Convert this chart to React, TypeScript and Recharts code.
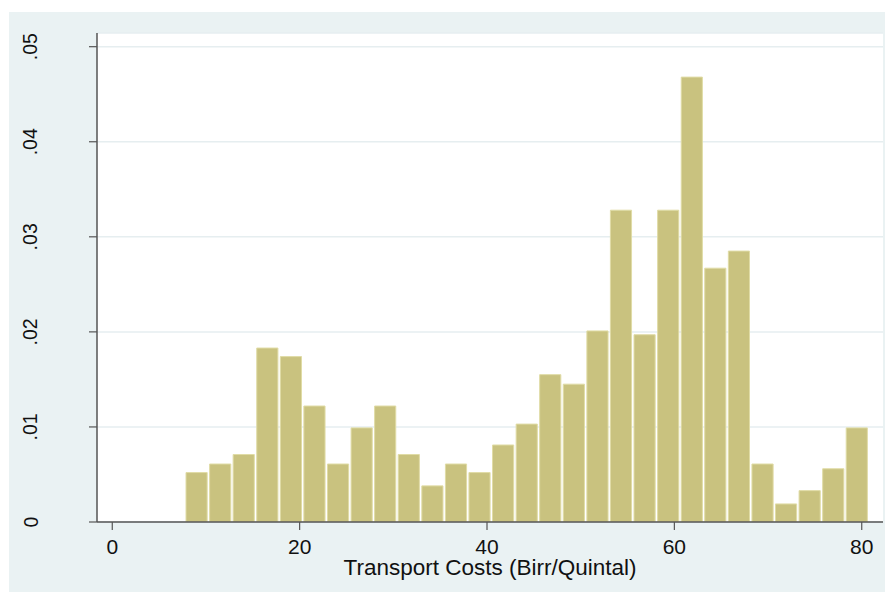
import { BarChart, Bar, XAxis, YAxis, CartesianGrid, Label } from "recharts";

// histogram bins (centre of each bin, Birr/Quintal) and density heights
const binCenters = [
  9.02, 11.54, 14.05, 16.57, 19.09, 21.6, 24.12, 26.64, 29.15, 31.67, 34.19,
  36.71, 39.22, 41.74, 44.26, 46.77, 49.29, 51.81, 54.32, 56.84, 59.36, 61.88,
  64.39, 66.91, 69.43, 71.94, 74.46, 76.98, 79.49,
];
const densities = [
  0.0052, 0.0061, 0.0071, 0.0183, 0.0174, 0.0122, 0.0061, 0.0099, 0.0122,
  0.0071, 0.0038, 0.0061, 0.0052, 0.0081, 0.0103, 0.0155, 0.0145, 0.0201,
  0.0328, 0.0197, 0.0328, 0.0468, 0.0267, 0.0285, 0.0061, 0.0019, 0.0033,
  0.0056, 0.0099,
];
const xTicks = [0, 20, 40, 60, 80];
const yTicks = [0, 0.01, 0.02, 0.03, 0.04, 0.05];
const yTickLabels = ["0", ".01", ".02", ".03", ".04", ".05"];

const BIN_WIDTH = 2.517;
const X_MIN = -1.63;
const X_MAX = 82.27;
const Y_MAX = 0.05144;

const CHART_W = 884;
const CHART_H = 580;
const MARGIN = { top: 21, right: 10, bottom: 0, left: 0 };
const Y_AXIS_W = 88;
const X_AXIS_H = 70;
const PLOT_W = CHART_W - MARGIN.left - MARGIN.right - Y_AXIS_W;

const FONT = "'Liberation Sans', Arial, sans-serif";
const AXIS_COLOR = "#555555";

const data = binCenters.map((x, i) => ({ x, density: densities[i] }));

function YTick(props: any) {
  const { y, payload } = props;
  const idx = yTicks.indexOf(payload.value);
  const label = idx >= 0 ? yTickLabels[idx] : String(payload.value);
  const bx = 28.5;
  return (
    <text
      x={bx}
      y={y}
      transform={`rotate(-90, ${bx}, ${y})`}
      textAnchor="middle"
      fontFamily={FONT}
      fontSize={19.5}
      fill="#111"
    >
      {label}
    </text>
  );
}

export default function App() {
  return (
    <div
      style={{
        marginLeft: 1,
        marginTop: 4,
        width: CHART_W,
        height: CHART_H,
        background: "#EAF2F3",
      }}
    >
      <BarChart
        width={CHART_W}
        height={CHART_H}
        data={data}
        margin={MARGIN}
        barCategoryGap={0}
        barGap={0}
      >
        <CartesianGrid
          horizontal={true}
          vertical={false}
          fill="#ffffff"
          stroke="#E6EEF0"
          strokeWidth={1.5}
        />
        <XAxis
          dataKey="x"
          type="number"
          domain={[X_MIN, X_MAX]}
          allowDataOverflow
          ticks={xTicks}
          interval={0}
          height={X_AXIS_H}
          tickSize={8}
          tickMargin={9}
          axisLine={{ stroke: AXIS_COLOR, strokeWidth: 1.5 }}
          tickLine={{ stroke: AXIS_COLOR, strokeWidth: 1.2 }}
          tick={{ fontSize: 21, fontFamily: FONT, fill: "#111" }}
        >
          <Label
            value="Transport Costs (Birr/Quintal)"
            position="insideBottom"
            offset={17}
            style={{ fontSize: 22.5, fontFamily: FONT, fill: "#111" }}
          />
        </XAxis>
        <YAxis
          type="number"
          domain={[0, Y_MAX]}
          allowDataOverflow
          ticks={yTicks}
          interval={0}
          width={Y_AXIS_W}
          tickSize={8}
          axisLine={{ stroke: AXIS_COLOR, strokeWidth: 1.5 }}
          tickLine={{ stroke: AXIS_COLOR, strokeWidth: 1.2 }}
          tick={<YTick />}
        />
        <Bar
          dataKey="density"
          fill="#C9C27F"
          stroke="#E0DCA6"
          strokeWidth={1}
          barSize={(BIN_WIDTH * PLOT_W) / (X_MAX - X_MIN)}
          isAnimationActive={false}
        />
      </BarChart>
    </div>
  );
}
